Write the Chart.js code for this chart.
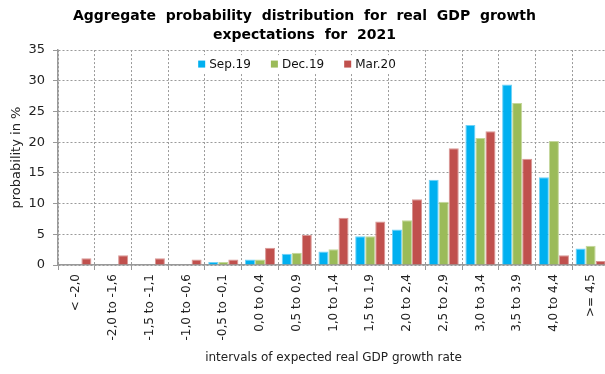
<!DOCTYPE html>
<html>
<head>
<meta charset="utf-8">
<script src="https://cdn.jsdelivr.net/npm/chart.js@4"></script>
<style>
  html, body { margin: 0; padding: 0; background: #fff; overflow: hidden; }
  #wrap { width: 611px; height: 374px; }
</style>
</head>
<body>
<div id="wrap"><canvas id="gdpChart" width="611" height="374"></canvas></div>
<script>
'use strict';

// ── Data ──────────────────────────────────────────────────
const INTERVALS = ['< -2,0', '-2,0 to -1,6', '-1,5 to -1,1', '-1,0 to -0,6', '-0,5 to -0,1',
                   '0,0 to 0,4', '0,5 to 0,9', '1,0 to 1,4', '1,5 to 1,9', '2,0 to 2,4',
                   '2,5 to 2,9', '3,0 to 3,4', '3,5 to 3,9', '4,0 to 4,4', '>= 4,5'];
const SEP19 = [0.1, 0.1, 0.1, 0.1, 0.5, 0.9, 1.85, 2.2, 4.7, 5.8, 13.9, 22.8, 29.4, 14.3, 2.7];
const DEC19 = [0.1, 0.1, 0.1, 0.1, 0.5, 0.9, 2.0, 2.55, 4.7, 7.3, 10.3, 20.7, 26.4, 20.2, 3.15];
const MAR20 = [1.1, 1.6, 1.1, 0.9, 0.9, 2.8, 4.9, 7.7, 7.1, 10.7, 19.0, 21.8, 17.3, 1.6, 0.65];
const Y_MAX  = 35;
const Y_STEP = 5;

const FONT = "'DejaVu Sans', Verdana, sans-serif";
const GRID = '#9a9a9a';

// ── Legend inside the plot, on a white box ────────────────
const innerLegend = {
    id: 'innerLegend',
    beforeDatasetsDraw(chart) {
        const { ctx } = chart;
        const sets = chart.data.datasets;
        const box = 7, gap = 4, itemGap = 20;
        ctx.save();
        ctx.font = '12px ' + FONT;
        const widths = sets.map(d => box + gap + ctx.measureText(d.label).width);
        const total = widths.reduce((a, b) => a + b, 0) + itemGap * (sets.length - 1);
        let x = 297 - total / 2;
        const y = chart.chartArea.top + 14;
        ctx.fillStyle = '#fff';
        ctx.fillRect(x - 4, y - 9, total + 8, 18);
        ctx.textBaseline = 'middle';
        sets.forEach((d, i) => {
            ctx.fillStyle = d.backgroundColor;
            ctx.fillRect(x, y - box / 2, box, box);
            ctx.fillStyle = '#111';
            ctx.fillText(d.label, x + box + gap, y + 1);
            x += widths[i] + itemGap;
        });
        ctx.restore();
    }
};

const bar = (label, data, fill, edge) => ({
    label, data,
    backgroundColor: fill,
    borderColor: edge,
    borderWidth: { top: 1, left: 1, right: 1, bottom: 0 },
    categoryPercentage: 0.82,
    barPercentage: 1.0,
});

new Chart(document.getElementById('gdpChart'), {
    type: 'bar',
    data: {
        labels: INTERVALS,
        datasets: [
            bar('Sep.19', SEP19, '#00B0F0', '#6fd2f7'),
            bar('Dec.19', DEC19, '#9BBB59', '#c4d79b'),
            bar('Mar.20', MAR20, '#C0504D', '#d99795'),
        ]
    },
    options: {
        responsive: false,
        animation: false,
        layout: { padding: { left: 0, right: 2, top: 0, bottom: 0 } },
        plugins: {
            legend: { display: false },
            tooltip: { enabled: false },
            title: {
                display: true,
                text: ['Aggregate  probability  distribution  for  real  GDP  growth', 'expectations  for  2021'],
                color: '#000',
                font: { family: FONT, size: 14, weight: 'bold', lineHeight: 1.36 },
                padding: { top: 7, bottom: 5 }
            }
        },
        scales: {
            x: {
                grid: { color: GRID, drawTicks: true, tickLength: 5, tickColor: '#999' },
                border: { display: true, color: '#999', width: 1.5, dash: [2, 2] },
                ticks: {
                    color: '#222', font: { family: FONT, size: 12 },
                    minRotation: 90, maxRotation: 90, padding: 4, autoSkip: false
                },
                title: {
                    display: true,
                    text: 'intervals of expected real GDP growth rate',
                    color: '#222',
                    font: { family: FONT, size: 12 },
                    padding: { top: 4, bottom: 9 }
                },
                afterFit(scale) { scale.height = 109; }
            },
            y: {
                min: 0, max: Y_MAX,
                grid: { color: GRID, tickLength: 5, tickColor: '#999' },
                border: { display: true, color: '#999', width: 1.5, dash: [2, 2] },
                ticks: { stepSize: Y_STEP, color: '#222', font: { family: FONT, size: 13 }, padding: 8 },
                title: {
                    display: true,
                    text: 'probability in %',
                    color: '#222',
                    font: { family: FONT, size: 13 },
                    padding: { top: 9, bottom: 0 }
                },
                afterFit(scale) { scale.width = 58; }
            }
        }
    },
    plugins: [innerLegend]
});
</script>
</body>
</html>
